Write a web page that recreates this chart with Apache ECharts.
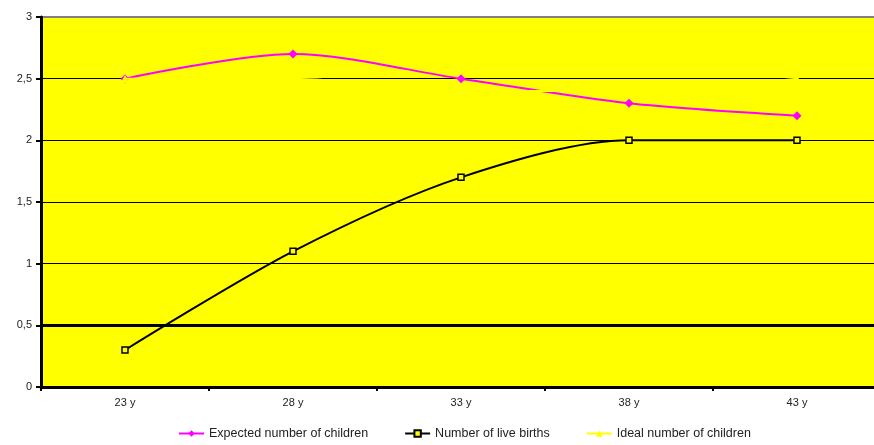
<!DOCTYPE html>
<html>
<head>
<meta charset="utf-8">
<style>
  html, body { margin: 0; padding: 0; background: #ffffff; overflow: hidden; }
  /* the plot's right end runs a few pixels past the window edge */
  #chart { width: 881px; height: 445px; }
</style>
<script src="https://cdn.jsdelivr.net/npm/echarts@6/dist/echarts.min.js"></script>
</head>
<body>
<div id="chart"></div>
<script>
// Age groups on the horizontal axis
const ages = ['23 y', '28 y', '33 y', '38 y', '43 y'];

// Average number of children per age group
const expectedChildren = [2.5, 2.7, 2.5, 2.3, 2.2];
const liveBirths = [0.3, 1.1, 1.7, 2.0, 2.0];
const idealChildren = [2.5, 2.5, 2.4, 2.4, 2.5];

// Value-axis ticks and the emphasised reference level
const yTicks = [0, 0.5, 1, 1.5, 2, 2.5, 3];
const referenceLevel = 0.5;

const font = 'Liberation Sans, Arial, sans-serif';
const chart = echarts.init(document.getElementById('chart'), null, { renderer: 'canvas' });

chart.setOption({
  animation: false,
  backgroundColor: '#ffffff',
  textStyle: { fontFamily: font },
  grid: {
    left: 41, top: 17, right: 0, bottom: 58,
    show: true,
    backgroundColor: '#ffff00',
    borderColor: '#808080',
    borderWidth: 2
  },
  legend: {
    left: 178, top: 427, padding: 0,
    itemWidth: 25, itemHeight: 8, itemGap: 36,
    textStyle: { fontFamily: font, fontSize: 12.5, color: '#222' },
    data: ['Expected number of children', 'Number of live births', 'Ideal number of children']
  },
  xAxis: {
    type: 'category',
    data: ages,
    boundaryGap: true,
    axisLine: { lineStyle: { color: '#000', width: 3 } },
    axisTick: { show: true, length: 4, lineStyle: { color: '#000', width: 2 } },
    axisLabel: { color: '#222', fontSize: 11, fontFamily: font, margin: 10 },
    splitLine: { show: false }
  },
  yAxis: {
    type: 'value',
    min: yTicks[0],
    max: yTicks[yTicks.length - 1],
    interval: yTicks[1] - yTicks[0],
    axisLine: { show: true, lineStyle: { color: '#000', width: 3 } },
    axisTick: { show: true, length: 5, lineStyle: { color: '#000', width: 2 } },
    axisLabel: {
      color: '#222', fontSize: 11, fontFamily: font, margin: 9,
      formatter: v => String(v).replace('.', ',')
    },
    splitLine: {
      show: true,
      lineStyle: { color: ['#000', '#000', '#000', '#000', '#000', '#000', '#808080'], width: 1 }
    }
  },
  series: [
    {
      name: 'Number of live births',
      type: 'line',
      data: liveBirths,
      smooth: 0.3,
      symbol: 'rect',
      symbolSize: 6,
      showAllSymbol: true,
      lineStyle: { color: '#000', width: 2 },
      itemStyle: { color: '#ffff00', borderColor: '#000', borderWidth: 1.5 },
      markLine: {
        silent: true,
        symbol: 'none',
        label: { show: false },
        lineStyle: { color: '#000', width: 3, type: 'solid' },
        data: [{ yAxis: referenceLevel }]
      },
      z: 3
    },
    {
      name: 'Expected number of children',
      type: 'line',
      data: expectedChildren,
      smooth: 0.3,
      symbol: 'diamond',
      symbolSize: 9,
      lineStyle: { color: '#ff00ff', width: 2 },
      itemStyle: { color: '#ff00ff' },
      z: 4
    },
    {
      name: 'Ideal number of children',
      type: 'line',
      data: idealChildren,
      smooth: 0.3,
      symbol: 'triangle',
      symbolSize: 8,
      lineStyle: { color: '#ffff00', width: 2 },
      itemStyle: { color: '#ffff00' },
      z: 5
    }
  ]
});
</script>
</body>
</html>
